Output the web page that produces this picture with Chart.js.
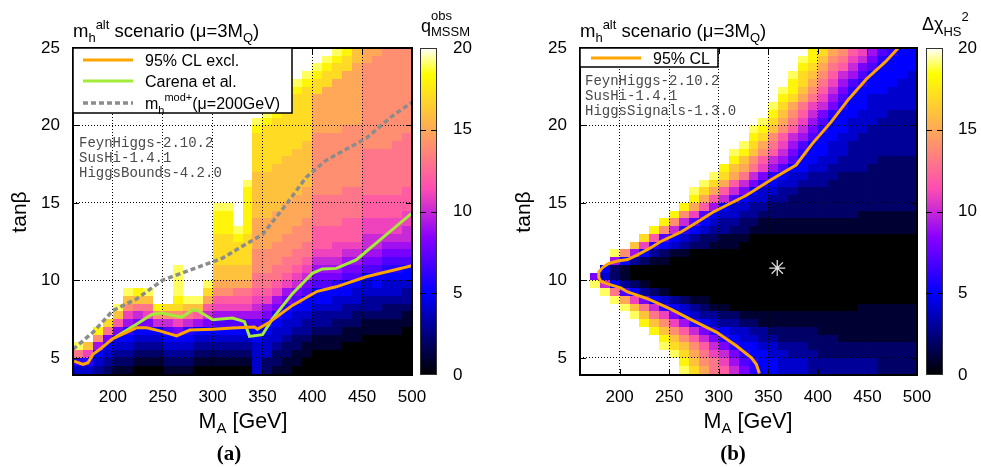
<!DOCTYPE html>
<html>
<head>
<meta charset="utf-8">
<script src="https://cdn.jsdelivr.net/npm/chart.js@4.4.1/dist/chart.umd.min.js"></script>
<style>
  html, body { margin: 0; padding: 0; background: #fff; }
  #wrap { position: relative; width: 981px; height: 467px; overflow: hidden; }
  canvas { position: absolute; top: 0; }
</style>
</head>
<body>
<div id="wrap">
  <canvas id="chartA" width="490" height="467" style="left:0px"></canvas>
  <canvas id="chartB" width="491" height="467" style="left:490px"></canvas>
</div>
<script>
// ---------- data ----------
// heat-map cell centres: 10 GeV in M_A, 0.5 in tan(beta)
const maCells = [165, 175, 185, 195, 205, 215, 225, 235, 245, 255, 265, 275, 285, 295, 305, 315, 325,
  335, 345, 355, 365, 375, 385, 395, 405, 415, 425, 435, 445, 455, 465, 475, 485, 495];
const tbCells = [4.25, 4.75, 5.25, 5.75, 6.25, 6.75, 7.25, 7.75, 8.25, 8.75, 9.25, 9.75, 10.25, 10.75,
  11.25, 11.75, 12.25, 12.75, 13.25, 13.75, 14.25, 14.75, 15.25, 15.75, 16.25, 16.75, 17.25, 17.75,
  18.25, 18.75, 19.25, 19.75, 20.25, 20.75, 21.25, 21.75, 22.25, 22.75, 23.25, 23.75, 24.25, 24.75];
const cellWidth = 10;
const cellHeight = 0.5;

const xTicks = [200, 250, 300, 350, 400, 450, 500];
const yTicks = [5, 10, 15, 20, 25];
const cbTicks = [0, 5, 10, 15, 20];

// one character per cell: 0-9 then a=10 ... k=20 (k = white, >= 20)
const levelCode = "0123456789abcdefghijk";

// (a) q_MSSM^obs: one string per M_A column, from tanb 4.25 (left) up to 24.75 (right)
const qObsColumns = [
  "46djkk kkkkkk kkkkkk kkkkkk kkkkkk kkkkkk kkkkkk",
  "46bgkk kkkkkk kkkkkk kkkkkk kkkkkk kkkkkk kkkkkk",
  "3459ei kkkkkk kkkkkk kkkkkk kkkkkk kkkkkk kkkkkk",
  "23458d hkkkkk kkkkkk kkkkkk kkkkkk kkkkkk kkkkkk",
  "123458 cgjkkk kkkkkk kkkkkk kkkkkk kkkkkk kkkkkk",
  "123456 9begjk kkkkkk kkkkkk kkkkkk kkkkkk kkkkkk",
  "012345 8adgik kkkkkk kkkkkk kkkkkk kkkkkk kkkkkk",
  "012345 8bdgjk kkkkkk kkkkkk kkkkkk kkkkkk kkkkkk",
  "012345 aeikkk kkkkkk kkkkkk kkkkkk kkkkkk kkkkkk",
  "123457 aehkkk kkkkkk kkkkkk kkkkkk kkkkkk kkkkkk",
  "123458 behijj jjkkkk kkkkkk kkkkkk kkkkkk kkkkkk",
  "123456 adgjkk kkkkkk kkkkkk kkkkkk kkkkkk kkkkkk",
  "012345 9cgjkk kkkkkk kkkkkk kkkkkk kkkkkk kkkkkk",
  "012345 8acfhj kkkkkk kkkkkk kkkkkk kkkkkk kkkkkk",
  "012345 79bcef gghhhh iiijkk kkkkkk kkkkkk kkkkkk",
  "012345 79bcef gghhhh iiijkk kkkkkk kkkkkk kkkkkk",
  "012345 79bcdf gghhhi jkkkkk kkkkkk kkkkkk kkkkkk",
  "012345 79bcdf gghhhh iiiiii jkkkkk kkkkkk kkkkkk",
  "444455 79abcd deeeff ffgggg gghhhh hijkkk kkkkkk",
  "224445 689bcd deeeff ffgggg gghhhh hhijkk kkkkkk",
  "122344 5689bc ddeeef fffggg ggghhh hhhijk kkkkkk",
  "112234 45689b cddeee ffffgg gggghh hhhhij kkkkkk",
  "011223 44578a bcddee effffg gggggh hhhhhh ijkkkk",
  "001123 345578 abcdde eeffff gggggg hhhhhh hijkkk",
  "000112 334557 89abcc cdddde eeeeee efffff hhijkk",
  "000112 334557 89abcc cdddde eeeeee efffff fhhijk",
  "000112 234456 89abbc cdddde eeeeee efffff ffhhij",
  "000011 233455 789abc ccdddd eeeeee eeffff fffhhi",
  "000011 223445 789abc ccdddd eeeeee eeffff ffffgg",
  "000001 123344 5789aa bbcccd ddddde eeeeee eeeeff",
  "000001 123345 5789aa bbcccd ddddde eeeeee eeeeef",
  "000001 122344 56789a bbcccd ddddde eeeeee eeeeee",
  "000001 122344 56789a bbcccd dddddd eeeeee eeeeee",
  "000000 112334 55789a abbccc dddddd deeeee eeeeee"
].map((s) => s.replace(/ /g, ""));

// (b) Delta chi^2_HS: one string per tanb row, top row (24.75) first, M_A 165 ... 495
const chi2Rows = [
  "kkkkkkkkkk kkkkkkkkkk kkkihfecb9 7655",
  "kkkkkkkkkk kkkkkkkkkk kkjigedba8 6555",
  "kkkkkkkkkk kkkkkkkkkk kkihfdca87 5555",
  "kkkkkkkkkk kkkkkkkkkk kjhgeca975 5554",
  "kkkkkkkkkk kkkkkkkkkk kihfdb9765 5544",
  "kkkkkkkkkk kkkkkkkkkk jigeca8655 5444",
  "kkkkkkkkkk kkkkkkkkkk ihfdb97554 4444",
  "kkkkkkkkkk kkkkkkkkkj hfdba86554 4444",
  "kkkkkkkkkk kkkkkkkkki geca865544 4333",
  "kkkkkkkkkk kkkkkkkkjh fdb9755444 3333",
  "kkkkkkkkkk kkkkkkkjig eca8655443 3333",
  "kkkkkkkkkk kkkkkkkihe ca97554433 3333",
  "kkkkkkkkkk kkkkkkjhfd b975544333 3333",
  "kkkkkkkkkk kkkkkjigec a865544333 3333",
  "kkkkkkkkkk kkkkkigeca 9755443333 2222",
  "kkkkkkkkkk kkkkigfdb9 7554433332 2222",
  "kkkkkkkkkk kkkjhfda86 5443332222 2222",
  "kkkkkkkkkk kkjhfca865 4433322222 2222",
  "kkkkkkkkkk kjhfca8544 3322222222 2222",
  "kkkkkkkkkk kifca75443 3222222222 2222",
  "kkkkkkkkkk ifc9544332 2222222222 2222",
  "kkkkkkkkki eb75443322 2222222211 1111",
  "kkkkkkkkie a754332211 1111111111 1111",
  "kkkkkkkiea 6543322111 1111111111 1111",
  "kkkkkkhc75 4322111000 0000000000 0000",
  "kkkkkgb654 3221110000 0000000000 0000",
  "kkkje95321 1000000000 0000000000 0000",
  "kkk9532110 0000000000 0000000000 0000",
  "kk52100000 0000000000 0000000000 0000",
  "k842100000 0000000000 0000000000 0000",
  "kja5321000 0000000000 0000000000 0000",
  "kkjd753210 0000000000 0000000000 0000",
  "kkkjfb8543 2110000000 0000000000 0000",
  "kkkkjgda65 4321100000 0000000011 1111",
  "kkkkkjgdb8 5433221111 1111111111 1111",
  "kkkkkkigeb 9654332211 1111111111 1111",
  "kkkkkkkige ca86544332 2222111111 1111",
  "kkkkkkkkig eca8654433 2222221111 1111",
  "kkkkkkkkjh geca865544 3332222222 2222",
  "kkkkkkkkkj hfdba86554 4333222222 2222",
  "kkkkkkkkkk igedb97655 4443333333 2222",
  "kkkkkkkkkk jhfdca8655 4443333333 2222"
].map((s) => s.replace(/ /g, ""));

// (a) contours
const exclMA = [161, 170, 175, 180, 187, 200, 212, 224, 234, 247, 264, 277, 300, 320, 342, 345, 357, 380, 405, 424, 454, 500];
const exclTB = [4.8, 4.58, 4.69, 5.23, 5.56, 6.25, 6.6, 6.95, 6.95, 6.75, 6.42, 6.8, 6.86, 6.93, 7.0, 6.86, 7.3, 8.39, 9.3, 9.59, 10.24, 10.95];
const carenaMA = [202, 224, 239, 249, 269, 280, 285, 300, 320, 332, 337, 350, 360, 380, 400, 410, 424, 444, 500];
const carenaTB = [6.32, 7.19, 7.8, 7.9, 7.63, 8.1, 8.06, 7.47, 7.58, 7.34, 6.39, 6.5, 7.52, 9.15, 10.46, 10.74, 10.78, 11.33, 14.35];
const modMA = [160, 180, 200, 224, 250, 287, 310, 327, 350, 374, 394, 414, 454, 480, 500];
const modTB = [5.56, 6.65, 8.06, 8.82, 10.02, 10.9, 11.44, 12.1, 12.96, 14.92, 16.67, 17.76, 19.17, 20.6, 21.5];

// (b) 95% CL contour and best-fit point
const clMA = [341, 338, 333, 318, 298, 274, 251, 228, 208, 201, 187, 181, 179, 179, 183, 189, 198, 208, 218, 231, 241, 261, 274, 294, 328, 354, 378, 394, 413, 431, 449, 468, 484];
const clTB = [4.0, 4.58, 5.01, 5.77, 6.65, 7.41, 8.17, 8.82, 9.26, 9.52, 9.8, 9.95, 10.2, 10.55, 10.85, 11.1, 11.25, 11.35, 11.65, 12.1, 12.5, 13.1, 13.6, 14.4, 15.5, 16.55, 17.45, 18.8, 20.2, 21.7, 23.0, 24.1, 25.2];
const bestMA = [359];
const bestTB = [10.8];

const programsA = ["FeynHiggs-2.10.2", "SusHi-1.4.1", "HiggsBounds-4.2.0"];
const programsB = ["FeynHiggs-2.10.2", "SusHi-1.4.1", "HiggsSignals-1.3.0"];

qObsColumns.forEach((s, i) => { if (s.length !== tbCells.length) console.warn("qObs column", i, s.length); });
chi2Rows.forEach((s, i) => { if (s.length !== maCells.length) console.warn("chi2 row", i, s.length); });

// ---------- helpers ----------
const SANS = '"Liberation Sans", Arial, Helvetica, sans-serif';
const MONO = '"Liberation Mono", "DejaVu Sans Mono", monospace';
const SERIF = '"Liberation Serif", "Times New Roman", serif';

function clamp01(v) { return Math.max(0, Math.min(1, v)); }

// gnuplot rgbformulae 30,31,32 (black-blue-violet-yellow-white)
function paletteColor(value, vmax) {
  const x = clamp01(value / vmax);
  const r = clamp01(x / 0.32 - 0.78125);
  const g = clamp01(2 * x - 0.84);
  let b;
  if (x < 0.25) b = 4 * x;
  else if (x < 0.42) b = 1;
  else if (x < 0.92) b = -2 * x + 1.84;
  else b = x / 0.08 - 11.5;
  b = clamp01(b);
  return `rgb(${Math.round(r * 255)},${Math.round(g * 255)},${Math.round(b * 255)})`;
}

function points(xs, ys) { return xs.map((x, i) => ({ x: x, y: ys[i] })); }

// parts: [text, size, dy, stackOnPrevious]
function layoutRich(ctx, parts) {
  let cx = 0, prevStart = 0;
  const placed = parts.map(([text, size, dy = 0, stack = false]) => {
    ctx.font = `${size}px ${SANS}`;
    const start = stack ? prevStart : cx;
    const w = ctx.measureText(text).width;
    prevStart = start;
    cx = Math.max(cx, start + w);
    return { text, size, dy, start };
  });
  return { placed, width: cx };
}
function drawRich(ctx, x, y, parts, align) {
  const { placed, width } = layoutRich(ctx, parts);
  const x0 = align === "center" ? x - width / 2 : x;
  ctx.textAlign = "left";
  ctx.textBaseline = "alphabetic";
  placed.forEach((p) => {
    ctx.font = `${p.size}px ${SANS}`;
    ctx.fillText(p.text, x0 + p.start, y + p.dy);
  });
}

// ---------- plugins ----------
const heatmapPlugin = {
  id: "heatmap",
  beforeDraw(chart, args, opts) {
    const cells = opts.cells;
    if (!cells) return;
    const { ctx, chartArea: area } = chart;
    const xs = chart.scales.x, ys = chart.scales.y;
    const nRows = tbCells.length;
    const valueAt = opts.byColumn ? (j, i) => cells[j][i] : (j, i) => cells[nRows - 1 - i][j];
    ctx.save();
    ctx.beginPath();
    ctx.rect(area.left, area.top, area.right - area.left, area.bottom - area.top);
    ctx.clip();
    for (let i = 0; i < nRows; i++) {
      const tb = tbCells[i];
      const lo = i === 0 ? Math.min(ys.min, tb - cellHeight / 2) : tb - cellHeight / 2;
      const yTop = Math.round(ys.getPixelForValue(tb + cellHeight / 2));
      const yBot = Math.round(ys.getPixelForValue(lo));
      for (let j = 0; j < maCells.length; j++) {
        const ch = valueAt(j, i);
        const v = ch === undefined ? 20 : levelCode.indexOf(ch);
        const x0 = Math.round(xs.getPixelForValue(maCells[j] - cellWidth / 2));
        const x1 = Math.round(xs.getPixelForValue(maCells[j] + cellWidth / 2));
        ctx.fillStyle = paletteColor(v, 20);
        ctx.fillRect(x0, yTop, x1 - x0, yBot - yTop);
      }
    }
    ctx.restore();
  }
};

const framePlugin = {
  id: "frame",
  afterDraw(chart) {
    const { ctx, chartArea: a } = chart;
    const xs = chart.scales.x, ys = chart.scales.y;
    ctx.save();
    ctx.strokeStyle = "#000";
    ctx.lineWidth = 1;
    const tl = 6;
    ctx.beginPath();
    xs.ticks.forEach((t) => {
      if (t.value <= xs.min || t.value >= xs.max) return;
      const px = Math.round(xs.getPixelForValue(t.value)) + 0.5;
      ctx.moveTo(px, a.bottom); ctx.lineTo(px, a.bottom - tl);
      ctx.moveTo(px, a.top); ctx.lineTo(px, a.top + tl);
    });
    ys.ticks.forEach((t) => {
      if (t.value <= ys.min || t.value >= ys.max) return;
      const py = Math.round(ys.getPixelForValue(t.value)) + 0.5;
      ctx.moveTo(a.left, py); ctx.lineTo(a.left + tl, py);
      ctx.moveTo(a.right, py); ctx.lineTo(a.right - tl, py);
    });
    ctx.stroke();
    ctx.lineWidth = 2;
    ctx.strokeRect(a.left, a.top, a.right - a.left, a.bottom - a.top);

    // tick labels
    ctx.fillStyle = "#000";
    ctx.font = `17px ${SANS}`;
    ctx.textAlign = "center";
    ctx.textBaseline = "alphabetic";
    xs.ticks.forEach((t) => ctx.fillText(String(t.value), xs.getPixelForValue(t.value), a.bottom + 27));
    ctx.textAlign = "right";
    ctx.textBaseline = "middle";
    ys.ticks.forEach((t) => ctx.fillText(String(t.value), a.left - 13, ys.getPixelForValue(t.value)));
    ctx.restore();
  }
};

const colorbarPlugin = {
  id: "colorbar",
  afterDraw(chart, args, opts) {
    const { ctx } = chart;
    const cb = chart.scales.cb;
    const x0 = cb.left + opts.offset, w = opts.width;
    const top = Math.round(cb.getPixelForValue(cb.max));
    const bot = Math.round(cb.getPixelForValue(cb.min));
    ctx.save();
    for (let py = top; py < bot; py++) {
      ctx.fillStyle = paletteColor(cb.getValueForPixel(py + 0.5), cb.max);
      ctx.fillRect(x0, py, w, 1);
    }
    ctx.strokeStyle = "#333";
    ctx.lineWidth = 1;
    ctx.strokeRect(x0 + 0.5, top + 0.5, w - 1, bot - top - 1);
    ctx.strokeStyle = "#000";
    ctx.beginPath();
    cb.ticks.forEach((t) => {
      if (t.value <= cb.min || t.value >= cb.max) return;
      const py = Math.round(cb.getPixelForValue(t.value)) + 0.5;
      ctx.moveTo(x0, py); ctx.lineTo(x0 + 6, py);
      ctx.moveTo(x0 + w, py); ctx.lineTo(x0 + w - 6, py);
    });
    ctx.stroke();
    ctx.fillStyle = "#000";
    ctx.font = `17px ${SANS}`;
    ctx.textAlign = "left";
    ctx.textBaseline = "middle";
    cb.ticks.forEach((t) => ctx.fillText(String(t.value), cb.left + opts.labelOffset, cb.getPixelForValue(t.value)));
    ctx.restore();
  }
};

const decorPlugin = {
  id: "decor",
  afterDraw(chart, args, o) {
    const { ctx } = chart;
    ctx.save();
    ctx.fillStyle = "#000";
    drawRich(ctx, o.title.x, o.title.y, o.title.parts);
    drawRich(ctx, o.cbTitle.x, o.cbTitle.y, o.cbTitle.parts);
    drawRich(ctx, o.xTitle.x, o.xTitle.y, o.xTitle.parts, "center");
    ctx.save();
    ctx.translate(o.yTitle.x, o.yTitle.y);
    ctx.rotate(-Math.PI / 2);
    drawRich(ctx, 0, 0, o.yTitle.parts, "center");
    ctx.restore();

    ctx.font = `bold 21px ${SERIF}`;
    ctx.textAlign = "center";
    ctx.fillText(o.panel.text, o.panel.x, o.panel.y);

    // program versions
    ctx.font = `14px ${MONO}`;
    ctx.fillStyle = "#4a4a4a";
    ctx.textAlign = "left";
    o.programs.lines.forEach((line, i) => ctx.fillText(line, o.programs.x, o.programs.y + i * 15));

    // legend
    const [bx0, by0, bx1, by1] = o.legend.box;
    ctx.fillStyle = "#fff";
    ctx.fillRect(bx0, by0, bx1 - bx0, by1 - by0);
    ctx.strokeStyle = "#000";
    ctx.lineWidth = 1.5;
    ctx.strokeRect(bx0, by0, bx1 - bx0, by1 - by0);
    o.legend.items.forEach((item) => {
      const ds = chart.data.datasets[item.ds];
      ctx.strokeStyle = ds.borderColor;
      ctx.lineWidth = ds.borderWidth;
      ctx.setLineDash(ds.borderDash || []);
      ctx.beginPath();
      ctx.moveTo(o.legend.lineX[0], item.y);
      ctx.lineTo(o.legend.lineX[1], item.y);
      ctx.stroke();
      ctx.setLineDash([]);
      ctx.fillStyle = "#000";
      drawRich(ctx, o.legend.textX, item.y + 6, item.parts);
    });
    ctx.restore();
  }
};

function axisScales(yWidth, cbWidth) {
  return {
    x: {
      type: "linear", position: "bottom", min: 160, max: 500,
      afterBuildTicks: (s) => { s.ticks = xTicks.map((v) => ({ value: v })); },
      afterFit: (s) => { s.height = 92; },
      grid: { color: "#000", lineWidth: 1, drawTicks: false },
      border: { display: false, dash: [1, 2] },
      ticks: { display: false }
    },
    y: {
      type: "linear", position: "left", min: 3.9, max: 25,
      afterBuildTicks: (s) => { s.ticks = yTicks.map((v) => ({ value: v })); },
      afterFit: (s) => { s.width = yWidth; },
      grid: { color: "#000", lineWidth: 1, drawTicks: false },
      border: { display: false, dash: [1, 2] },
      ticks: { display: false }
    },
    cb: {
      type: "linear", position: "right", min: 0, max: 20,
      afterBuildTicks: (s) => { s.ticks = cbTicks.map((v) => ({ value: v })); },
      afterFit: (s) => { s.width = cbWidth; },
      grid: { display: false, drawTicks: false },
      border: { display: false },
      ticks: { display: false }
    }
  };
}

function baseOptions(scales, plugins) {
  return {
    responsive: false,
    animation: false,
    events: [],
    layout: { padding: { top: 48, left: 0, right: 0, bottom: 0 } },
    plugins: Object.assign({ legend: { display: false }, tooltip: { enabled: false } }, plugins),
    scales: scales
  };
}

const lineStyle = { showLine: true, pointRadius: 0, fill: false, tension: 0 };
const titleParts = [["m", 18.5], ["h", 13, 5], ["alt", 13, -8], [" scenario (\u03bc=3M", 18.5], ["Q", 13, 5], [")", 18.5]];
const xTitleParts = [["M", 21.5], ["A", 15, 5], [" [GeV]", 21.5]];

// ---------- panel (a) ----------
new Chart(document.getElementById("chartA"), {
  type: "scatter",
  data: {
    datasets: [
      Object.assign({ label: "95% CL excl.", data: points(exclMA, exclTB), borderColor: "#ffa500", borderWidth: 3 }, lineStyle),
      Object.assign({ label: "Carena et al.", data: points(carenaMA, carenaTB), borderColor: "#a4ec3a", borderWidth: 3 }, lineStyle),
      Object.assign({ label: "mh mod+ (mu=200GeV)", data: points(modMA, modTB), borderColor: "#8c8c8c", borderWidth: 3.5, borderDash: [5, 3] }, lineStyle)
    ]
  },
  options: baseOptions(axisScales(73, 78), {
    heatmap: { cells: qObsColumns, byColumn: true },
    colorbar: { offset: 8, width: 17, labelOffset: 41 },
    decor: {
      title: { x: 73, y: 37, parts: titleParts },
      cbTitle: { x: 421, y: 32, parts: [["q", 18], ["obs", 13, -12], ["MSSM", 13, 4, true]] },
      xTitle: { x: 243, y: 428, parts: xTitleParts },
      yTitle: { x: 26, y: 212, parts: [["tan\u03b2", 21]] },
      panel: { x: 229, y: 460, text: "(a)" },
      programs: { x: 79, y: 147, lines: programsA },
      legend: {
        box: [73, 48, 292, 113], lineX: [83, 133], textX: 145,
        items: [
          { ds: 0, y: 60, parts: [["95% CL excl.", 16]] },
          { ds: 1, y: 81, parts: [["Carena et al.", 16]] },
          { ds: 2, y: 103, parts: [["m", 16], ["h", 11, 5], ["mod+", 11, -8], ["(\u03bc=200GeV)", 16]] }
        ]
      }
    }
  }),
  plugins: [heatmapPlugin, framePlugin, colorbarPlugin, decorPlugin]
});

// ---------- panel (b) ----------
new Chart(document.getElementById("chartB"), {
  type: "scatter",
  data: {
    datasets: [
      Object.assign({ label: "95% CL", data: points(clMA, clTB), borderColor: "#ffa500", borderWidth: 3 }, lineStyle),
      { label: "best fit", data: points(bestMA, bestTB), showLine: false, pointStyle: "star", pointRadius: 8, borderColor: "#e0e0e0", borderWidth: 1.3, backgroundColor: "#e0e0e0" }
    ]
  },
  options: baseOptions(axisScales(90, 64), {
    heatmap: { cells: chi2Rows, byColumn: false },
    colorbar: { offset: 9, width: 17, labelOffset: 41 },
    decor: {
      title: { x: 90, y: 37, parts: titleParts },
      cbTitle: { x: 432, y: 30, parts: [["\u0394\u03c7", 18], ["HS", 13, 6], ["2", 13, -9]] },
      xTitle: { x: 258, y: 428, parts: xTitleParts },
      yTitle: { x: 40, y: 212, parts: [["tan\u03b2", 21]] },
      panel: { x: 243, y: 460, text: "(b)" },
      programs: { x: 95, y: 85, lines: programsB },
      legend: {
        box: [90, 48, 228, 67], lineX: [101, 151], textX: 163,
        items: [{ ds: 0, y: 58, parts: [["95% CL", 16]] }]
      }
    }
  }),
  plugins: [heatmapPlugin, framePlugin, colorbarPlugin, decorPlugin]
});
</script>
</body>
</html>
